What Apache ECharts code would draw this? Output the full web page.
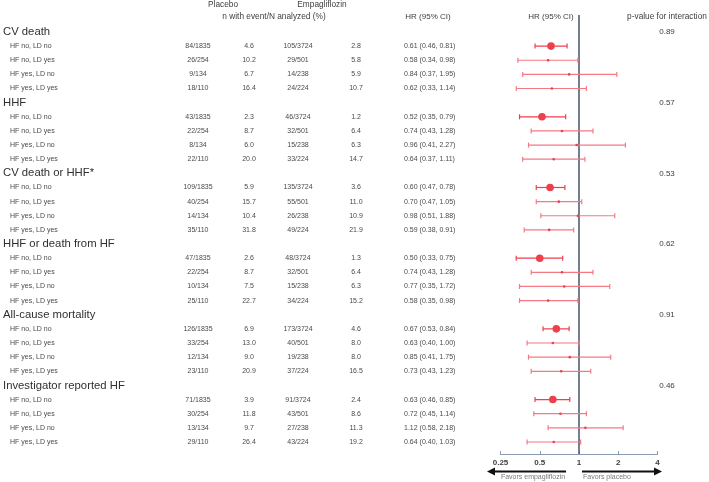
<!DOCTYPE html>
<html>
<head>
<meta charset="utf-8">
<script src="https://cdn.jsdelivr.net/npm/echarts@6/dist/echarts.min.js"></script>
<style>html,body{margin:0;padding:0;background:#fff}#c{width:709px;height:482px}</style>
</head>
<body>
<div id="c"></div>
<script>
// ---------- data ----------
const groups = ['CV death', 'HHF', 'CV death or HHF*', 'HHF or death from HF', 'All-cause mortality', 'Investigator reported HF'];
const pInteraction = ['0.89', '0.57', '0.53', '0.62', '0.91', '0.46'];
const subgroups = ['HF no, LD no', 'HF no, LD yes', 'HF yes, LD no', 'HF yes, LD yes'];

const placeboN = ['84/1835','26/254','9/134','18/110',
                  '43/1835','22/254','8/134','22/110',
                  '109/1835','40/254','14/134','35/110',
                  '47/1835','22/254','10/134','25/110',
                  '126/1835','33/254','12/134','23/110',
                  '71/1835','30/254','13/134','29/110'];
const placeboPct = ['4.6','10.2','6.7','16.4',
                    '2.3','8.7','6.0','20.0',
                    '5.9','15.7','10.4','31.8',
                    '2.6','8.7','7.5','22.7',
                    '6.9','13.0','9.0','20.9',
                    '3.9','11.8','9.7','26.4'];
const empaN = ['105/3724','29/501','14/238','24/224',
               '46/3724','32/501','15/238','33/224',
               '135/3724','55/501','26/238','49/224',
               '48/3724','32/501','15/238','34/224',
               '173/3724','40/501','19/238','37/224',
               '91/3724','43/501','27/238','43/224'];
const empaPct = ['2.8','5.8','5.9','10.7',
                 '1.2','6.4','6.3','14.7',
                 '3.6','11.0','10.9','21.9',
                 '1.3','6.4','6.3','15.2',
                 '4.6','8.0','8.0','16.5',
                 '2.4','8.6','11.3','19.2'];
const hr   = [0.61,0.58,0.84,0.62, 0.52,0.74,0.96,0.64, 0.60,0.70,0.98,0.59, 0.50,0.74,0.77,0.58, 0.67,0.63,0.85,0.73, 0.63,0.72,1.12,0.64];
const ciLo = [0.46,0.34,0.37,0.33, 0.35,0.43,0.41,0.37, 0.47,0.47,0.51,0.38, 0.33,0.43,0.35,0.35, 0.53,0.40,0.41,0.43, 0.46,0.45,0.58,0.40];
const ciHi = [0.81,0.98,1.95,1.14, 0.79,1.28,2.27,1.11, 0.78,1.05,1.88,0.91, 0.75,1.28,1.72,0.98, 0.84,1.00,1.75,1.23, 0.85,1.14,2.18,1.03];
const xTickLabels = ['0.25', '0.5', '1', '2', '4'];

// ---------- layout ----------
const FONT = '"Liberation Sans", Arial, sans-serif';
const ROW_MIN = -1.2, ROW_MAX = 29.85;
const GRID_TOP = 15, GRID_BOTTOM = 28;
const COL = { label: 10, group: 3, pN: 198, pPct: 249, eN: 298, ePct: 356, hr: 404, p: 667 };
const RED = '#ef3e4c', RED_LIGHT = '#f47983';

const headerRows = groups.map((g, i) => i * 5);
const subRows = [];
groups.forEach((g, i) => subgroups.forEach((s, j) => subRows.push(i * 5 + 1 + j)));
const subLabels = [];
groups.forEach(() => subgroups.forEach(s => subLabels.push(s)));
const hrText = hr.map((v, i) => v.toFixed(2) + ' (' + ciLo[i].toFixed(2) + ', ' + ciHi[i].toFixed(2) + ')');

function textSeries(colX, rows, texts, style) {
  return {
    type: 'custom', xAxisIndex: 0, yAxisIndex: 0, silent: true, clip: false,
    data: rows.map((r) => [colX, r]),
    renderItem: function (params, api) {
      const p = api.coord([api.value(0), api.value(1)]);
      return { type: 'text', x: p[0], y: p[1],
        style: Object.assign({ text: texts[params.dataIndex], verticalAlign: 'middle' }, style) };
    }
  };
}
const small = { font: '7px ' + FONT, fill: '#4a4a4a' };

const forestData = hr.map((v, i) => [v, ciLo[i], ciHi[i], subRows[i], (i % 4 === 0) ? 1 : 0]);

const chart = echarts.init(document.getElementById('c'), null, { renderer: 'canvas' });
chart.setOption({
  animation: false,
  grid: [
    { left: 0, right: 0, top: GRID_TOP, bottom: GRID_BOTTOM },
    { left: 500.5, width: 157, top: GRID_TOP, bottom: GRID_BOTTOM }
  ],
  xAxis: [
    { gridIndex: 0, type: 'value', min: 0, max: 709, show: false },
    { gridIndex: 1, type: 'log', logBase: 2, min: 0.25, max: 4, interval: 1, position: 'bottom',
      axisLine: { show: true, onZero: false, lineStyle: { color: '#8a9bb4', width: 1 } },
      axisTick: { show: true, inside: true, length: 3, lineStyle: { color: '#8a9bb4' } },
      splitLine: { show: false },
      axisLabel: { margin: 5, fontSize: 8, fontWeight: 'bold', color: '#404040', fontFamily: FONT,
        formatter: function (v) { const l = Math.round(Math.log2(v)) + 2; return xTickLabels[l] || ''; } } }
  ],
  yAxis: [
    { gridIndex: 0, type: 'value', inverse: true, min: ROW_MIN, max: ROW_MAX, show: false },
    { gridIndex: 1, type: 'value', inverse: true, min: ROW_MIN, max: ROW_MAX, show: false }
  ],
  series: [
    textSeries(COL.group, headerRows, groups, { font: '11.3px ' + FONT, fill: '#303030', align: 'left' }),
    textSeries(COL.p, headerRows, pInteraction, { font: '8px ' + FONT, fill: '#404040', align: 'center' }),
    textSeries(COL.label, subRows, subLabels, Object.assign({ align: 'left' }, small)),
    textSeries(COL.pN, subRows, placeboN, Object.assign({ align: 'center' }, small)),
    textSeries(COL.pPct, subRows, placeboPct, Object.assign({ align: 'center' }, small)),
    textSeries(COL.eN, subRows, empaN, Object.assign({ align: 'center' }, small)),
    textSeries(COL.ePct, subRows, empaPct, Object.assign({ align: 'center' }, small)),
    textSeries(COL.hr, subRows, hrText, Object.assign({ align: 'left' }, small)),
    {
      type: 'line', xAxisIndex: 1, yAxisIndex: 1, silent: true, symbol: 'none', z: 1,
      data: [[1, ROW_MIN], [1, ROW_MAX]],
      lineStyle: { color: '#44546a', width: 1.5 }
    },
    {
      type: 'custom', xAxisIndex: 1, yAxisIndex: 1, silent: true, z: 3,
      encode: { x: [0, 1, 2], y: 3 },
      data: forestData,
      renderItem: function (params, api) {
        const row = api.value(3), main = api.value(4) === 1;
        const pm = api.coord([api.value(0), row]);
        const pl = api.coord([api.value(1), row]);
        const ph = api.coord([api.value(2), row]);
        const col = main ? RED : RED_LIGHT;
        const ls = { stroke: col, lineWidth: 1.2 };
        return { type: 'group', children: [
          { type: 'line', shape: { x1: pl[0], y1: pl[1], x2: ph[0], y2: ph[1] }, style: ls },
          { type: 'line', shape: { x1: pl[0], y1: pl[1] - 2.5, x2: pl[0], y2: pl[1] + 2.5 }, style: ls },
          { type: 'line', shape: { x1: ph[0], y1: ph[1] - 2.5, x2: ph[0], y2: ph[1] + 2.5 }, style: ls },
          { type: 'circle', shape: { cx: pm[0], cy: pm[1], r: main ? 3.8 : 1.3 }, style: { fill: RED } }
        ] };
      }
    }
  ],
  graphic: [
    { type: 'text', x: 223, y: 5, style: { text: 'Placebo', font: '8.3px ' + FONT, fill: '#404040', align: 'center', verticalAlign: 'middle' } },
    { type: 'text', x: 322, y: 5, style: { text: 'Empagliflozin', font: '8.3px ' + FONT, fill: '#404040', align: 'center', verticalAlign: 'middle' } },
    { type: 'text', x: 274, y: 17, style: { text: 'n with event/N analyzed (%)', font: '8.3px ' + FONT, fill: '#404040', align: 'center', verticalAlign: 'middle' } },
    { type: 'text', x: 428, y: 17, style: { text: 'HR (95% CI)', font: '8px ' + FONT, fill: '#404040', align: 'center', verticalAlign: 'middle' } },
    { type: 'text', x: 551, y: 17, style: { text: 'HR (95% CI)', font: '8px ' + FONT, fill: '#404040', align: 'center', verticalAlign: 'middle' } },
    { type: 'text', x: 667, y: 17, style: { text: 'p-value for interaction', font: '8.3px ' + FONT, fill: '#404040', align: 'center', verticalAlign: 'middle' } },
    // arrows
    { type: 'line', shape: { x1: 493, y1: 471.5, x2: 566, y2: 471.5 }, style: { stroke: '#111', lineWidth: 2 } },
    { type: 'polygon', shape: { points: [[487, 471.5], [495, 467.5], [495, 475.5]] }, style: { fill: '#111' } },
    { type: 'line', shape: { x1: 582, y1: 471.5, x2: 656, y2: 471.5 }, style: { stroke: '#111', lineWidth: 2 } },
    { type: 'polygon', shape: { points: [[662, 471.5], [654, 467.5], [654, 475.5]] }, style: { fill: '#111' } },
    { type: 'text', x: 533, y: 477.5, style: { text: 'Favors empagliflozin', font: '7px ' + FONT, fill: '#7a7a7a', align: 'center', verticalAlign: 'middle' } },
    { type: 'text', x: 583, y: 477.5, style: { text: 'Favors placebo', font: '7px ' + FONT, fill: '#7a7a7a', align: 'left', verticalAlign: 'middle' } }
  ]
});
</script>
</body>
</html>
